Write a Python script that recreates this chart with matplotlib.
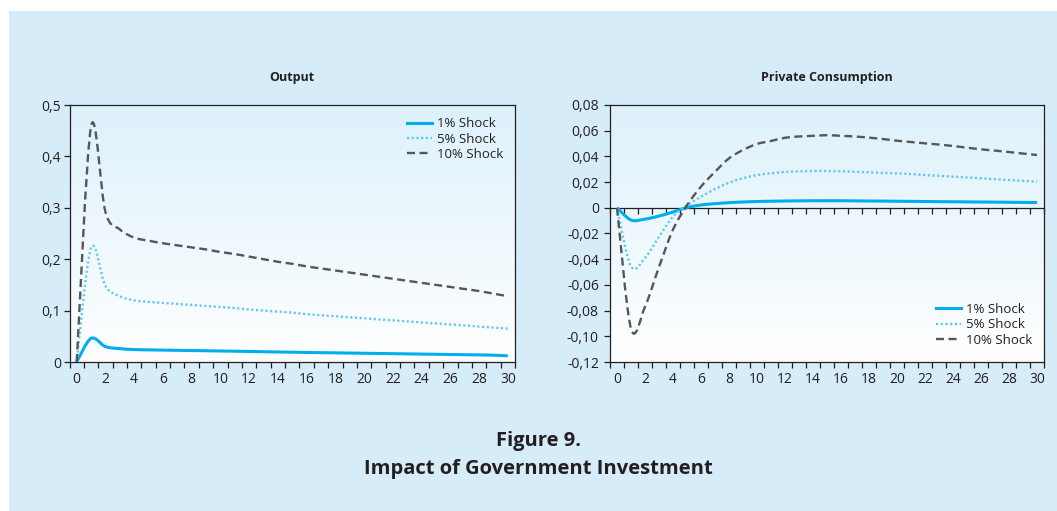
import numpy as np
import matplotlib
matplotlib.use("Agg")
import matplotlib.pyplot as plt
from matplotlib.path import Path
from matplotlib.patches import PathPatch, Rectangle
from matplotlib.lines import Line2D
from matplotlib.colors import LinearSegmentedColormap
from matplotlib import markers

plt.rcParams["font.family"] = ["Open Sans", "DejaVu Sans"]

# ---- data -------------------------------------------------------------
periods = list(range(0, 31))
series_labels = ["1% Shock", "5% Shock", "10% Shock"]

output_1 = [0.0, 0.046, 0.030, 0.026, 0.0242, 0.0236, 0.0231, 0.0227, 0.0223,
            0.0219, 0.0214, 0.0210, 0.0205, 0.0200, 0.0195, 0.0191, 0.0186,
            0.0182, 0.0178, 0.0174, 0.0170, 0.0166, 0.0162, 0.0158, 0.0154,
            0.0150, 0.0146, 0.0142, 0.0138, 0.0133, 0.0120]
output_5 = [0.0, 0.222, 0.148, 0.128, 0.120, 0.117, 0.115, 0.113, 0.111, 0.109,
            0.107, 0.105, 0.102, 0.100, 0.098, 0.096, 0.093, 0.091, 0.089,
            0.087, 0.085, 0.083, 0.081, 0.079, 0.077, 0.075, 0.073, 0.071,
            0.069, 0.067, 0.065]
output_10 = [0.0, 0.458, 0.292, 0.258, 0.242, 0.236, 0.231, 0.227, 0.223,
             0.219, 0.214, 0.210, 0.205, 0.200, 0.195, 0.191, 0.186, 0.182,
             0.178, 0.174, 0.170, 0.166, 0.162, 0.158, 0.154, 0.150, 0.146,
             0.142, 0.138, 0.133, 0.128]

cons_1 = [0.0, -0.0095, -0.0088, -0.0064, -0.0033, 0.0002, 0.0022, 0.0032,
          0.0040, 0.0045, 0.0049, 0.0051, 0.0053, 0.0054, 0.0055, 0.0055,
          0.0055, 0.0054, 0.0053, 0.0052, 0.0051, 0.0050, 0.0049, 0.0048,
          0.0047, 0.0046, 0.0045, 0.0044, 0.0043, 0.0042, 0.0041]
cons_5 = [0.0, -0.0455, -0.0390, -0.0225, -0.0069, 0.0020, 0.0086, 0.0146,
          0.0195, 0.0230, 0.0255, 0.0268, 0.0279, 0.0283, 0.0286, 0.0286,
          0.0284, 0.0280, 0.0276, 0.0272, 0.0268, 0.0262, 0.0255, 0.0249,
          0.0242, 0.0236, 0.0230, 0.0223, 0.0216, 0.0210, 0.0203]
cons_10 = [0.0, -0.094, -0.077, -0.046, -0.017, 0.002, 0.0165, 0.028, 0.0385,
           0.045, 0.0497, 0.052, 0.0545, 0.0555, 0.056, 0.0565, 0.056, 0.0555,
           0.0546, 0.0535, 0.0522, 0.0512, 0.0502, 0.0492, 0.0481, 0.0468,
           0.0455, 0.0445, 0.0434, 0.0422, 0.0411]

xtick_values = list(range(0, 31, 2))
xtick_labels = [str(v) for v in xtick_values]

out_yticks = [0.0, 0.1, 0.2, 0.3, 0.4, 0.5]
out_ylabels = ["0", "0,1", "0,2", "0,3", "0,4", "0,5"]
cons_yticks = [0.08, 0.06, 0.04, 0.02, 0.0, -0.02, -0.04, -0.06, -0.08, -0.10, -0.12]
cons_ylabels = ["0,08", "0,06", "0,04", "0,02", "0", "-0,02", "-0,04", "-0,06",
                "-0,08", "-0,10", "-0,12"]

# ---- styling ------------------------------------------------------------
INK = "#231F20"
BG = "#D6ECF9"
styles = [
    dict(color="#00AEEF", lw=2.2, ls="-"),
    dict(color="#5CC8F2", lw=1.7, ls=(0, (0.9, 1.1))),
    dict(color="#555759", lw=1.7, ls=(0, (3.4, 1.9))),
]
grad_cmap = LinearSegmentedColormap.from_list("panel", ["#FFFFFF", "#DDF1FB"])
category_edges = np.arange(-0.5, 31, 1.0)


def smooth_path(x, y):
    """Cubic Bezier path through the points (Catmull-Rom tangents)."""
    n = len(x)
    verts = [(x[0], y[0])]
    codes = [Path.MOVETO]
    for i in range(n - 1):
        a = i - 1 if i > 0 else i
        d = i + 2 if i + 2 < n else i + 1
        c1 = (x[i] + (x[i + 1] - x[a]) / 6.0, y[i] + (y[i + 1] - y[a]) / 6.0)
        c2 = (x[i + 1] - (x[d] - x[i]) / 6.0, y[i + 1] - (y[d] - y[i]) / 6.0)
        verts += [c1, c2, (x[i + 1], y[i + 1])]
        codes += [Path.CURVE4] * 3
    return Path(verts, codes)


def style_axes(ax, ylim, yticks, ylabels, ypad):
    ax.patch.set_alpha(0)
    ax.imshow(np.linspace(0, 1, 256).reshape(-1, 1), extent=[0, 1, 0, 1],
              transform=ax.transAxes, cmap=grad_cmap, aspect="auto",
              origin="lower", zorder=0)
    ax.set_xlim(-0.5, 30.5)
    ax.set_ylim(*ylim)
    for s in ax.spines.values():
        s.set_color(INK)
        s.set_linewidth(0.9)
    ax.set_xticks(xtick_values)
    ax.set_xticklabels(xtick_labels)
    ax.set_xticks(category_edges, minor=True)
    ax.tick_params(axis="x", which="major", length=0, pad=7.5,
                   labelsize=10, labelcolor=INK)
    ax.tick_params(axis="x", which="minor", length=4, width=0.9,
                   direction="out", color=INK)
    ax.set_yticks(yticks)
    ax.set_yticklabels(ylabels)
    ax.tick_params(axis="y", which="major", length=4, width=0.9,
                   direction="out", color=INK, pad=ypad,
                   labelsize=10, labelcolor=INK)


def draw_series(ax, ys):
    for y, st in zip(ys, styles):
        patch = PathPatch(smooth_path(periods, y), fill=False,
                          edgecolor=st["color"], lw=st["lw"],
                          linestyle=st["ls"], capstyle="butt", zorder=3)
        ax.add_patch(patch)


def add_legend(ax, loc, anchor):
    handles = [Line2D([], [], color=st["color"], lw=st["lw"], ls=st["ls"])
               for st in styles]
    ax.legend(handles, series_labels, loc=loc, bbox_to_anchor=anchor,
              frameon=False, fontsize=9.5, handlelength=1.9,
              handletextpad=0.35, labelspacing=0.18, borderpad=0,
              borderaxespad=0, labelcolor=INK)


fig = plt.figure(figsize=(10.57, 5.11), dpi=100)
fig.patch.set_facecolor("white")
fig.add_artist(Rectangle((9 / 1057, 0), 1, 1 - 11 / 511,
                         transform=fig.transFigure, facecolor=BG,
                         edgecolor="none", zorder=-10))

ax1 = fig.add_axes([69.5 / 1057, 1 - 362 / 511, 445.5 / 1057, 257 / 511])
ax2 = fig.add_axes([610 / 1057, 1 - 362 / 511, 434 / 1057, 257 / 511])

# Output panel
style_axes(ax1, (0, 0.5), out_yticks, out_ylabels, 2.0)
draw_series(ax1, [output_1, output_5, output_10])
ax1.set_title("Output", fontsize=9, fontweight="bold", color=INK, pad=17)
add_legend(ax1, "upper right", (0.973, 0.952))

# Private consumption panel
style_axes(ax2, (-0.12, 0.08), cons_yticks, cons_ylabels, 4.0)
ax2.axhline(0, color=INK, lw=0.9, zorder=2)
ax2.plot(category_edges, np.zeros(len(category_edges)), ls="none",
         marker=markers.TICKDOWN, ms=4, mew=0.9, color=INK, zorder=2,
         clip_on=False)
draw_series(ax2, [cons_1, cons_5, cons_10])
ax2.set_title("Private Consumption", fontsize=9, fontweight="bold",
              color=INK, pad=17)
add_legend(ax2, "lower right", (0.972, 0.06))

fig.text(538 / 1057, 1 - 441 / 511, "Figure 9.", ha="center", va="center",
         fontsize=14.5, fontweight="bold", color=INK)
fig.text(538 / 1057, 1 - 469 / 511, "Impact of Government Investment",
         ha="center", va="center", fontsize=14.5, fontweight="bold", color=INK)

fig.savefig("out.png", dpi=100)
